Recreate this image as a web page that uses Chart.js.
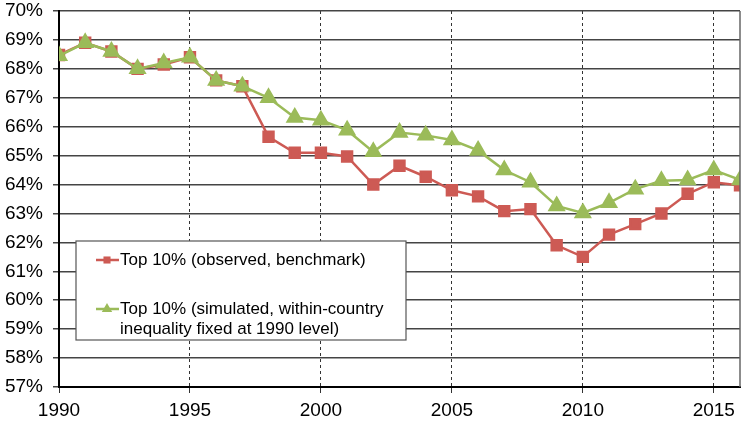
<!DOCTYPE html>
<html>
<head>
<meta charset="utf-8">
<script src="https://cdn.jsdelivr.net/npm/chart.js@4.4.0/dist/chart.umd.min.js"></script>
<style>
  html, body { margin: 0; padding: 0; background: #fff; }
  #wrap { width: 743px; height: 421px; }
</style>
</head>
<body>
<div id="wrap"><canvas id="chart"></canvas></div>
<script>
const years = [1990, 1991, 1992, 1993, 1994, 1995, 1996, 1997, 1998, 1999, 2000, 2001, 2002,
    2003, 2004, 2005, 2006, 2007, 2008, 2009, 2010, 2011, 2012, 2013, 2014, 2015, 2016];

const observed = [68.48, 68.9, 68.6, 68.0, 68.15, 68.4, 67.6, 67.4, 65.65, 65.1, 65.1, 64.97, 64.0,
    64.65, 64.27, 63.8, 63.59, 63.08, 63.15, 61.9, 61.5, 62.27, 62.63, 63.0, 63.68, 64.08, 63.97];

const simulated = [68.45, 68.9, 68.6, 68.0, 68.2, 68.4, 67.6, 67.4, 67.0, 66.32, 66.22, 65.88, 65.13,
    65.8, 65.7, 65.54, 65.18, 64.5, 64.08, 63.26, 63.02, 63.37, 63.84, 64.13, 64.16, 64.5, 64.16];

const observedLegend = ['Top 10% (observed, benchmark)'];
const simulatedLegend = ['Top 10% (simulated, within-country', 'inequality fixed at 1990 level)'];

const yTicksMin = 57;
const yTicksMax = 70;

const RED = '#CD5A54';
const GREEN = '#9BBB59';
const FONT = 'Liberation Sans, Arial, sans-serif';

const toPoints = (values) => values.map((v, i) => ({ x: years[i], y: v }));

// legend box inside the plot + right border
const boxLegend = {
    id: 'boxLegend',
    afterDraw(chart) {
        const { ctx, chartArea } = chart;
        ctx.save();
        ctx.strokeStyle = '#666';
        ctx.lineWidth = 1.5;
        ctx.beginPath();
        ctx.moveTo(chartArea.right, chartArea.top);
        ctx.lineTo(chartArea.right, chartArea.bottom);
        ctx.stroke();

        const x = chartArea.left + 17;
        const y = 241;
        const w = 330;
        const h = 99;
        ctx.fillStyle = '#fff';
        ctx.fillRect(x, y, w, h);
        ctx.strokeStyle = '#555';
        ctx.lineWidth = 1.2;
        ctx.strokeRect(x, y, w, h);

        const entries = [
            { lines: observedLegend, color: RED, style: 'rect', cy: 260 },
            { lines: simulatedLegend, color: GREEN, style: 'triangle', cy: 309 },
        ];
        ctx.font = '17px ' + FONT;
        ctx.textBaseline = 'middle';
        entries.forEach((e) => {
            ctx.strokeStyle = e.color;
            ctx.lineWidth = 2.5;
            ctx.beginPath();
            ctx.moveTo(x + 20, e.cy);
            ctx.lineTo(x + 43, e.cy);
            ctx.stroke();
            ctx.fillStyle = e.color;
            Chart.helpers.drawPoint(ctx, { pointStyle: e.style, radius: e.style === 'rect' ? 5 : 6, rotation: 0 }, x + 31, e.cy);
            ctx.fillStyle = '#000';
            e.lines.forEach((line, i) => ctx.fillText(line, x + 44, e.cy + i * 20));
        });
        ctx.restore();
    }
};

new Chart(document.getElementById('chart'), {
    type: 'line',
    data: {
        datasets: [
            {
                label: simulatedLegend.join(' '),
                data: toPoints(simulated),
                borderColor: GREEN,
                backgroundColor: GREEN,
                borderWidth: 2.5,
                pointStyle: 'triangle',
                pointRadius: 8,
                tension: 0,
                order: 0,
            },
            {
                label: observedLegend[0],
                data: toPoints(observed),
                borderColor: RED,
                backgroundColor: RED,
                borderWidth: 2.5,
                pointStyle: 'rect',
                pointRadius: 7,
                tension: 0,
                order: 1,
            },
        ],
    },
    options: {
        responsive: true,
        maintainAspectRatio: false,
        animation: false,
        layout: { autoPadding: false, padding: { top: 11, right: 3, left: 0, bottom: 0 } },
        scales: {
            x: {
                type: 'linear',
                min: years[0],
                max: years[years.length - 1],
                afterFit: (scale) => {
                    scale.height = 34;
                    scale.paddingLeft = 0;
                    scale.paddingRight = 0;
                },
                ticks: {
                    stepSize: 5,
                    includeBounds: false,
                    maxRotation: 0,
                    padding: 6,
                    color: '#000',
                    font: { family: FONT, size: 19 },
                    callback: (v) => String(v),
                },
                grid: {
                    color: '#333',
                    lineWidth: 1,
                    tickLength: 6,
                },
                border: { color: '#000', width: 2, dash: [3, 3] },
            },
            y: {
                min: yTicksMin,
                max: yTicksMax,
                afterFit: (scale) => {
                    scale.width = 59;
                    scale.paddingTop = 0;
                    scale.paddingBottom = 0;
                },
                ticks: {
                    stepSize: 1,
                    padding: 10,
                    color: '#000',
                    font: { family: FONT, size: 19 },
                    callback: (v) => v + '%',
                },
                grid: {
                    color: '#444',
                    lineWidth: 1.5,
                    tickLength: 6,
                },
                border: { color: '#000', width: 2 },
            },
        },
        plugins: {
            legend: { display: false },
            tooltip: { enabled: false },
        },
    },
    plugins: [boxLegend],
});
</script>
</body>
</html>
